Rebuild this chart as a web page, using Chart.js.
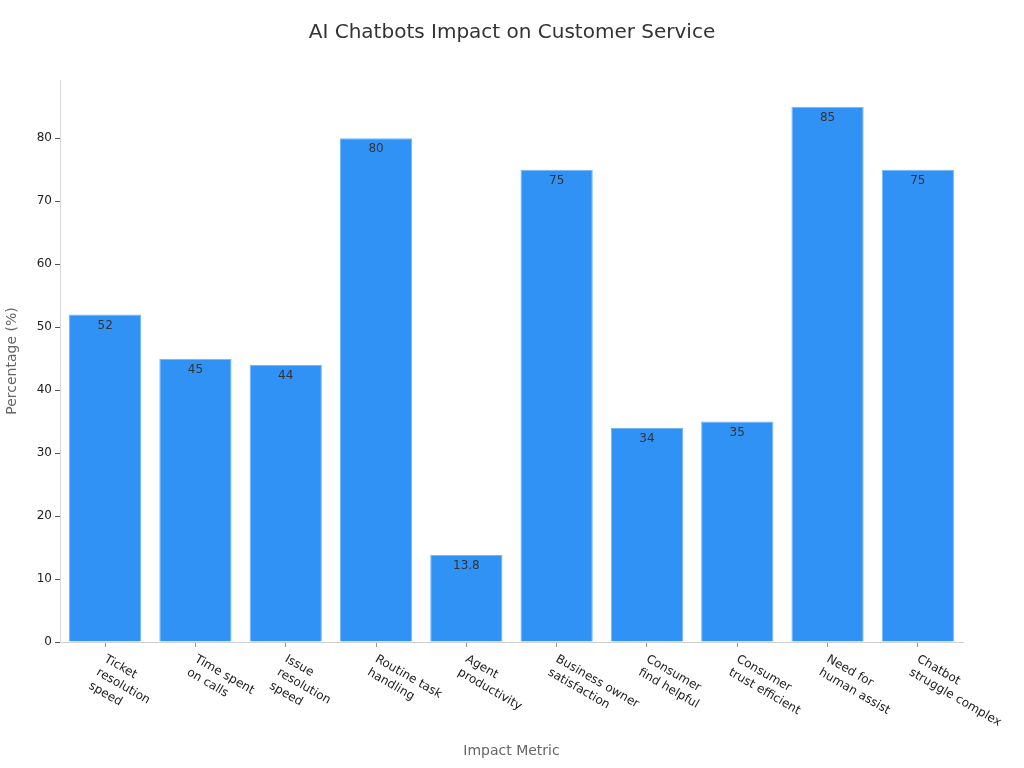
<!DOCTYPE html>
<html>
<head>
<meta charset="utf-8">
<script src="https://cdn.jsdelivr.net/npm/chart.js@4.4.1/dist/chart.umd.min.js"></script>
<style>
  html, body { margin: 0; padding: 0; background: #fff; }
  #wrap { width: 1024px; height: 768px; }
</style>
</head>
<body>
<div id="wrap"><canvas id="c" width="1024" height="768"></canvas></div>
<script>
const chartTitle = 'AI Chatbots Impact on Customer Service';
const categories = [
  ["Ticket", "resolution", "speed"],
  ["Time spent", "on calls"],
  ["Issue", "resolution", "speed"],
  ["Routine task", "handling"],
  ["Agent", "productivity"],
  ["Business owner", "satisfaction"],
  ["Consumer", "find helpful"],
  ["Consumer", "trust efficient"],
  ["Need for", "human assist"],
  ["Chatbot", "struggle complex"]
];
const values = [52, 45, 44, 80, 13.8, 75, 34, 35, 85, 75];
const yTicks = [0, 10, 20, 30, 40, 50, 60, 70, 80];

const FONT = "'DejaVu Sans', sans-serif";

const titlePlugin = {
  id: 'titlePlugin',
  afterDraw(chart) {
    const ctx = chart.ctx;
    ctx.save();
    ctx.font = "20px " + FONT;
    ctx.fillStyle = '#333';
    ctx.textAlign = 'center';
    ctx.textBaseline = 'middle';
    ctx.fillText(chartTitle, chart.width / 2, 33);
    ctx.restore();
  }
};

const valueLabels = {
  id: 'valueLabels',
  afterDatasetsDraw(chart) {
    const ctx = chart.ctx;
    const meta = chart.getDatasetMeta(0);
    ctx.save();
    ctx.font = "12px " + FONT;
    ctx.fillStyle = '#333';
    ctx.textAlign = 'center';
    ctx.textBaseline = 'middle';
    meta.data.forEach((bar, i) => {
      ctx.fillText(String(values[i]), bar.x, bar.y + 11);
    });
    ctx.restore();
  }
};

const rotatedXLabels = {
  id: 'rotatedXLabels',
  afterDraw(chart) {
    const ctx = chart.ctx;
    const xs = chart.scales.x;
    ctx.save();
    ctx.font = "12px " + FONT;
    ctx.fillStyle = '#222';
    ctx.textAlign = 'left';
    ctx.textBaseline = 'top';
    categories.forEach((lines, i) => {
      const x = xs.getPixelForTick(i) + 3;
      const y = xs.top + 11;
      ctx.save();
      ctx.translate(x, y);
      ctx.rotate(30 * Math.PI / 180);
      lines.forEach((ln, k) => {
        ctx.fillText(ln, 0, k * 15.5);
      });
      ctx.restore();
    });
    ctx.restore();
  }
};

new Chart(document.getElementById('c'), {
  type: 'bar',
  data: {
    labels: categories.map(l => l.join(' ')),
    datasets: [{
      data: values,
      backgroundColor: '#3192f6',
      borderColor: '#74b5f8',
      borderWidth: 1,
      barPercentage: 0.8,
      categoryPercentage: 1.0
    }]
  },
  options: {
    responsive: false,
    animation: false,
    devicePixelRatio: 1,
    layout: { padding: { left: 0, right: 61, top: 80, bottom: 0 } },
    plugins: {
      legend: { display: false },
      tooltip: { enabled: false },
      title: { display: false }
    },
    scales: {
      x: {
        afterFit(s) { s.height = 126; },
        grid: { offset: false, drawOnChartArea: false, drawTicks: true, tickLength: 5, color: '#999' },
        border: { color: '#d0d0d0' },
        ticks: { display: false },
        title: {
          display: true,
          text: 'Impact Metric',
          color: '#666',
          font: { family: FONT, size: 14 },
          padding: { top: 0, bottom: 8 }
        }
      },
      y: {
        min: 0,
        max: 89.25,
        afterFit(s) { s.width = 60; },
        afterBuildTicks(s) { s.ticks = yTicks.map(v => ({ value: v })); },
        grid: { drawOnChartArea: false, drawTicks: true, tickLength: 5, color: '#555' },
        border: { color: '#d8d8d8' },
        ticks: {
          color: '#222',
          font: { family: FONT, size: 12 },
          padding: 3
        },
        title: {
          display: true,
          text: 'Percentage (%)',
          color: '#666',
          font: { family: FONT, size: 14 },
          padding: { top: 4, bottom: 0 }
        }
      }
    }
  },
  plugins: [valueLabels, rotatedXLabels, titlePlugin]
});
</script>
</body>
</html>
